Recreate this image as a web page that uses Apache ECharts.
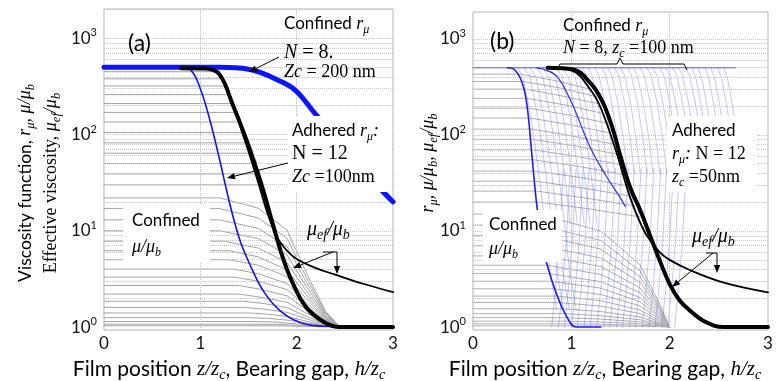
<!DOCTYPE html>
<html><head><meta charset="utf-8">
<script src="https://cdn.jsdelivr.net/npm/echarts@6/dist/echarts.min.js"></script>
<style>html,body{margin:0;padding:0;background:#fff}#c{width:776px;height:381px}</style>
</head><body><div id="c"></div>
<script>
// ---------- data (z/zc , value) ----------
const xTicks = [0, 1, 2, 3];
const yTickExps = [0, 1, 2, 3];
const gridMinor = [2,3,4,5,6,7,8,9,20,30,40,50,60,70,80,90,200,300,400,500,600,700,800,900,2000];
const gridMajor = [10, 100, 1000];
const gridVert = [1, 2];

// panel (a)
const aConfinedR = [[0,500],[1.2,500],[1.5,478],[1.86,347],[2.0,280],[2.2,161],[2.5,75],[2.86,28],[3.0,20]];
const aAdheredR = [[0,500],[0.8,500],[0.9,470],[1.0,300],[1.1,140],[1.2,55],[1.27,27],[1.34,14],[1.42,7.5],[1.5,4.8],[1.65,2.4],[1.82,1.5],[2.03,1.12],[2.3,1.02],[3,1]];
const aMuEfThick = [[0.8,490],[1.05,485],[1.2,420],[1.34,200],[1.45,105],[1.55,55],[1.65,27],[1.75,12],[1.85,5.5],[1.95,3.0],[2.1,1.6],[2.3,1.1],[2.45,1.0],[3.0,1.0]];
const aMuEfThin = [[0.95,490],[1.15,465],[1.3,250],[1.45,95],[1.6,32],[1.7,15],[1.8,8.5],[1.9,6.2],[2.0,5.1],[2.2,4.1],[2.4,3.5],[2.7,2.8],[3.0,2.3]];
const aGrayUpper = [
 [[0,450],[1.17,450],[1.23,380]],
 [[0,380],[1.21,380],[1.27,310]],
 [[0,320],[1.24,320],[1.30,260]],
 [[0,260],[1.28,260],[1.34,210]],
 [[0,210],[1.32,210],[1.38,170]],
 [[0,170],[1.36,170],[1.42,135]],
 [[0,135],[1.40,135],[1.46,108]],
 [[0,105],[1.45,105],[1.51,84]],
 [[0,82],[1.49,82],[1.55,66]],
 [[0,64],[1.53,64],[1.59,51]],
 [[0,50],[1.56,50],[1.62,40]],
 [[0,39],[1.59,39],[1.65,31]],
 [[0,30],[1.62,30],[1.68,24]]
];
const aGrayLower = [
 [[0,22],[1.2,22],[1.6,17.2],[1.9,10.2],[2.1,3.66],[2.3,1.45],[2.45,1]],
 [[0,17],[1.2,17],[1.6,13.6],[1.9,8.37],[2.1,3.29],[2.3,1.41],[2.45,1]],
 [[0,13],[1.2,13],[1.6,10.6],[1.9,6.85],[2.1,2.94],[2.3,1.36],[2.45,1]],
 [[0,10],[1.2,10],[1.6,8.32],[1.9,5.62],[2.1,2.63],[2.3,1.32],[2.45,1]],
 [[0,7.8],[1.25,7.8],[1.6,6.62],[1.9,4.67],[2.1,2.37],[2.3,1.28],[2.45,1]],
 [[0,6.2],[1.3,6.2],[1.6,5.36],[1.9,3.93],[2.1,2.15],[2.3,1.24],[2.45,1]],
 [[0,5.0],[1.3,5.0],[1.6,4.4],[1.9,3.34],[2.1,1.97],[2.3,1.21],[2.45,1]],
 [[0,4.0],[1.35,4.0],[1.6,3.58],[1.9,2.83],[2.1,1.79],[2.3,1.18],[2.45,1]],
 [[0,3.3],[1.35,3.3],[1.6,3.0],[1.9,2.45],[2.1,1.65],[2.3,1.15],[2.45,1]],
 [[0,2.7],[1.4,2.7],[1.6,2.49],[1.9,2.11],[2.1,1.52],[2.3,1.13],[2.45,1]],
 [[0,2.2],[1.4,2.2],[1.6,2.06],[1.9,1.81],[2.1,1.39],[2.3,1.10],[2.45,1]],
 [[0,1.85],[1.45,1.85],[1.65,1.76],[1.9,1.59],[2.1,1.29],[2.3,1.08],[2.45,1]],
 [[0,1.6],[1.45,1.6],[1.65,1.54],[1.9,1.42],[2.1,1.22],[2.3,1.06],[2.45,1]],
 [[0,1.4],[1.5,1.4],[1.7,1.36],[1.9,1.29],[2.1,1.15],[2.3,1.04],[2.45,1]],
 [[0,1.25],[1.5,1.25],[1.7,1.23],[1.9,1.18],[2.1,1.1],[2.3,1.03],[2.45,1]],
 [[0,1.14],[1.55,1.14],[1.75,1.13],[1.9,1.10],[2.1,1.06],[2.3,1.02],[2.45,1]],
 [[0,1.07],[1.6,1.07],[1.8,1.065],[1.95,1.05],[2.1,1.03],[2.3,1.01],[2.45,1]],
 [[0,1.03],[1.7,1.03],[1.9,1.025],[2.1,1.015],[2.3,1.005],[2.45,1]]
];

// panel (b)
const bPlateau = [[0,500],[2.67,500]];
const bSteep = [[0.35,500],[0.42,480],[0.5,350],[0.55,200],[0.6,60],[0.65,18],[0.7,8],[0.755,4.4],[0.85,2.2],[0.95,1.3],[1.05,1.0],[1.3,1.0]];
const bSecond = [[0.65,500],[0.75,470],[0.86,400],[1.0,220],[1.19,75],[1.35,38],[1.5,22],[1.55,18]];
const bMuEfThick = [[0.76,500],[1.02,480],[1.19,350],[1.3,240],[1.4,135],[1.5,60],[1.6,28],[1.7,16.5],[1.8,9],[1.9,4.9],[2.0,2.8],[2.1,1.9],[2.2,1.5],[2.35,1.15],[2.55,1.0],[3,1]];
const bMuEfThin = [[0.8,495],[1.0,470],[1.19,300],[1.3,190],[1.45,70],[1.6,22],[1.72,11],[1.8,8],[1.9,6],[2.0,5],[2.21,3.9],[2.55,2.9],[3.0,2.3]];
const bGrayUpper = [
 [[0,430],[0.48,430],[0.85,365],[1.19,300]],
 [[0,360],[0.52,360],[0.9,306],[1.24,252]],
 [[0,300],[0.54,300],[0.9,255],[1.29,210]],
 [[0,240],[0.555,240],[0.95,204],[1.32,168]],
 [[0,190],[0.57,190],[0.96,162],[1.36,133]],
 [[0,150],[0.58,150],[0.98,128],[1.39,105]],
 [[0,115],[0.595,115],[1.0,98],[1.43,80]],
 [[0,90],[0.605,90],[1.03,77],[1.47,63]],
 [[0,70],[0.61,70],[1.05,60],[1.5,49]],
 [[0,55],[0.62,55],[1.08,47],[1.54,38.5]],
 [[0,42],[0.63,42],[1.1,36],[1.58,29.4]],
 [[0,33],[0.64,33],[1.12,28],[1.61,23]],
 [[0,26],[0.65,26],[1.15,22],[1.65,18.2]],
 [[0,20],[0.665,20],[1.18,17],[1.7,14]]
];
const bGrayLower = [
 [[0,15],[0.66,15],[1.3,10.0],[1.7,4.43],[1.9,1.72],[2.0,1]],
 [[0,11.5],[0.67,11.5],[1.3,7.97],[1.7,3.83],[1.9,1.63],[2.0,1]],
 [[0,9],[0.69,9],[1.3,6.47],[1.7,3.35],[1.9,1.55],[2.0,1]],
 [[0,7],[0.71,7],[1.3,5.23],[1.7,2.92],[1.9,1.48],[2.0,1]],
 [[0,5.5],[0.73,5.5],[1.3,4.26],[1.7,2.55],[1.9,1.41],[2.0,1]],
 [[0,4.4],[0.755,4.4],[1.3,3.52],[1.7,2.26],[1.9,1.35],[2.0,1]],
 [[0,3.6],[0.77,3.6],[1.3,2.97],[1.7,2.02],[1.9,1.29],[2.0,1]],
 [[0,3.0],[0.79,3.0],[1.3,2.54],[1.7,1.83],[1.9,1.25],[2.0,1]],
 [[0,2.5],[0.82,2.5],[1.3,2.18],[1.7,1.66],[1.9,1.20],[2.0,1]],
 [[0,2.1],[0.85,2.1],[1.3,1.88],[1.7,1.50],[1.9,1.16],[2.0,1]],
 [[0,1.8],[0.87,1.8],[1.3,1.65],[1.7,1.38],[1.9,1.12],[2.0,1]],
 [[0,1.55],[0.9,1.55],[1.3,1.45],[1.7,1.27],[1.9,1.09],[2.0,1]],
 [[0,1.38],[0.92,1.38],[1.3,1.31],[1.7,1.19],[1.9,1.07],[2.0,1]],
 [[0,1.25],[0.95,1.25],[1.3,1.21],[1.7,1.13],[1.9,1.05],[2.0,1]],
 [[0,1.15],[0.97,1.15],[1.3,1.13],[1.7,1.08],[1.9,1.03],[2.0,1]],
 [[0,1.08],[1.0,1.08],[1.3,1.07],[1.7,1.04],[1.9,1.02],[2.0,1]],
 [[0,1.03],[1.02,1.03],[1.3,1.025],[1.7,1.02],[1.9,1.01],[2.0,1]]
];
const bHatchTop = [
 [[0.45,500],[0.51,400],[0.59,150],[0.67,40],[0.73,12],[0.78,4],[0.85,1.5]],
 [[0.52,500],[0.58,400],[0.66,150],[0.74,40],[0.80,12],[0.85,4],[0.92,1.5]],
 [[0.58,500],[0.64,400],[0.72,150],[0.80,40],[0.86,12],[0.91,4],[0.98,1.5]],
 [[0.65,500],[0.71,400],[0.79,150],[0.87,40],[0.93,12],[0.98,4],[1.05,1.5]],
 [[0.71,500],[0.77,400],[0.85,150],[0.93,40],[0.99,12]],
 [[0.78,500],[0.84,400],[0.92,150],[1.00,40],[1.06,12]],
 [[0.85,500],[0.91,400],[0.99,150],[1.07,40],[1.13,12]],
 [[0.91,500],[0.97,400],[1.05,150],[1.13,40],[1.19,12]],
 [[0.98,500],[1.04,400],[1.12,150],[1.20,40],[1.26,12]],
 [[1.04,500],[1.08,420],[1.14,220],[1.20,90],[1.24,40]],
 [[1.11,500],[1.15,420],[1.21,220],[1.27,90],[1.31,40]],
 [[1.17,500],[1.21,420],[1.27,220],[1.33,90],[1.37,40]],
 [[1.24,500],[1.28,420],[1.34,220],[1.40,90],[1.44,40]],
 [[1.31,500],[1.35,420],[1.41,220],[1.47,90],[1.51,40]],
 [[1.37,500],[1.41,420],[1.47,220],[1.53,90],[1.57,40]],
 [[1.44,500],[1.48,420],[1.54,220],[1.60,90],[1.64,40]],
 [[1.50,500],[1.54,420],[1.60,220],[1.66,90],[1.70,40]],
 [[1.57,500],[1.61,420],[1.67,220],[1.73,90],[1.77,40]],
 [[1.63,500],[1.67,420],[1.73,220],[1.79,90],[1.83,40]],
 [[1.70,500],[1.74,420],[1.80,220],[1.86,90],[1.90,40]],
 [[1.77,500],[1.81,420],[1.87,220],[1.93,90],[1.97,40]],
 [[1.83,500],[1.87,420],[1.93,220],[1.99,90],[2.03,40]],
 [[1.90,500],[1.94,420],[2.00,220],[2.06,90],[2.10,40]],
 [[1.96,500],[2.00,420],[2.06,220],[2.12,90],[2.16,40]],
 [[2.03,500],[2.07,420],[2.13,220],[2.19,90],[2.23,40]],
 [[2.09,500],[2.13,420],[2.19,220],[2.25,90],[2.29,40]],
 [[2.16,500],[2.20,420],[2.26,220],[2.32,90]],
 [[2.23,500],[2.27,380],[2.31,230],[2.34,150]],
 [[2.29,500],[2.33,380],[2.37,230],[2.40,150]],
 [[2.36,500],[2.40,380],[2.44,230],[2.47,150]],
 [[2.42,500],[2.46,380],[2.50,230],[2.53,150]],
 [[2.49,500],[2.53,380],[2.57,230],[2.60,150]],
 [[2.55,500],[2.59,380],[2.63,230],[2.66,150]]
];
const bHatchBottom = [
 [[0.80,1],[0.84,2.5],[0.88,8],[0.90,20],[0.92,45]],
 [[0.87,1],[0.91,2.5],[0.95,8],[0.97,20],[0.99,45]],
 [[0.93,1],[0.97,2.5],[1.01,8],[1.03,20],[1.05,45]],
 [[1.00,1],[1.04,2.5],[1.08,8],[1.10,20],[1.12,45]],
 [[1.06,1],[1.10,2.5],[1.14,8],[1.16,20],[1.18,45]],
 [[1.13,1],[1.17,2.5],[1.21,8],[1.23,20],[1.25,45]],
 [[1.19,1],[1.23,2.5],[1.27,8],[1.29,20],[1.31,45]],
 [[1.26,1],[1.30,2.5],[1.34,8],[1.36,20],[1.38,45]],
 [[1.33,1],[1.37,2.5],[1.41,8],[1.43,20],[1.45,45]],
 [[1.39,1],[1.43,2.5],[1.47,8],[1.49,20],[1.51,45]],
 [[1.46,1],[1.50,2.5],[1.54,8],[1.56,20],[1.58,45]],
 [[1.52,1],[1.56,2.5],[1.60,8],[1.62,20],[1.64,45]],
 [[1.59,1],[1.63,2.5],[1.67,8],[1.69,20],[1.71,45]],
 [[1.65,1],[1.69,2.5],[1.73,8],[1.75,20],[1.77,45]],
 [[1.72,1],[1.76,2.5],[1.80,8],[1.82,20],[1.84,45]],
 [[1.79,1],[1.83,2.5],[1.87,8],[1.89,20],[1.91,45]],
 [[1.85,1],[1.89,2.5],[1.93,8],[1.95,20],[1.97,45]],
 [[1.92,1],[1.96,2.5],[2.00,8],[2.02,20],[2.04,45]],
 [[1.98,1],[2.02,2.5],[2.06,8],[2.08,20],[2.10,45]],
 [[2.05,1],[2.09,2.5],[2.13,8],[2.15,20],[2.17,45]]
];

// ---------- chart ----------
const L10 = v => Math.log10(v);
const SANS = 'Lato';
const SERIF = '"Liberation Serif", "DejaVu Serif", serif';

function mk(g, pts, color, width, z, extra) {
  return Object.assign({
    type: 'line', xAxisIndex: g, yAxisIndex: g,
    data: pts.map(p => [p[0], L10(p[1])]),
    symbol: 'none', showSymbol: false, silent: true, animation: false, z: z,
    lineStyle: { color: color, width: width, cap: 'round', join: 'round' }
  }, extra || {});
}
function gridSeries(g) {
  const d = [];
  gridMinor.concat(gridMajor).forEach(v => d.push({ yAxis: L10(v) }));
  gridVert.forEach(v => d.push({ xAxis: v }));
  return {
    type: 'line', xAxisIndex: g, yAxisIndex: g, data: [[0, -5]], symbol: 'none', silent: true, z: 1,
    animation: false,
    markLine: { silent: true, symbol: ['none', 'none'], animation: false, label: { show: false },
      lineStyle: { type: 'dotted', color: '#c4c4c4', width: 1 }, data: d }
  };
}

const series = [];
series.push(gridSeries(0), gridSeries(1));
const G_A = '#a3a3a3', G_B = '#b0b0b0';
aGrayUpper.concat(aGrayLower).forEach(l => series.push(mk(0, l, G_A, 1, 3)));
bGrayUpper.concat(bGrayLower).forEach(l => series.push(mk(1, l, G_B, 1, 3)));
const HATCH = 'rgba(80,80,255,0.42)';
bHatchTop.concat(bHatchBottom).forEach(l => series.push(mk(1, l, HATCH, 0.8, 4)));
const sm = { smooth: 0.4 };
series.push(mk(1, bPlateau, '#5a5aff', 1, 5));
series.push(mk(1, bSteep, '#1c1cf0', 1.6, 6, sm));
series.push(mk(1, bSecond, '#2c2cf0', 1.2, 6, sm));
series.push(mk(1, bMuEfThin, '#000', 1.8, 8, sm));
series.push(mk(1, bMuEfThick, '#000', 4, 9, sm));
series.push(mk(0, aAdheredR, '#1414ee', 1.6, 6, sm));
series.push(mk(0, aMuEfThin, '#000', 1.8, 8, sm));
series.push(mk(0, aMuEfThick, '#000', 4, 9, sm));
series.push(mk(0, aConfinedR, '#0a14ff', 5, 7, sm));

const yLabel = {
  customValues: yTickExps, margin: 7,
  formatter: v => '{b|10}{s|' + Math.round(v) + '}',
  rich: {
    b: { fontFamily: SANS, fontSize: 17, color: '#111', lineHeight: 22 },
    s: { fontFamily: SANS, fontSize: 11, color: '#111', lineHeight: 11, verticalAlign: 'top' }
  }
};
function xAx(g) {
  return { type: 'value', gridIndex: g, min: 0, max: 3, interval: 1,
    axisLine: { show: false }, axisTick: { show: false }, splitLine: { show: false },
    axisLabel: { fontFamily: SANS, fontSize: 17, color: '#111', margin: 5, customValues: xTicks } };
}
function yAx(g, max) {
  return { type: 'value', gridIndex: g, min: -0.031, max: max,
    axisLine: { show: false }, axisTick: { show: false }, splitLine: { show: false },
    axisLabel: yLabel };
}

// ---------- annotations ----------
const RICH = {
  sa: { fontFamily: SANS, fontSize: 17, lineHeight: 24 },
  xS: { fontFamily: SANS, fontSize: 21, lineHeight: 26 },
  xI: { fontFamily: SERIF, fontStyle: 'italic', fontSize: 21, lineHeight: 26 },
  xB: { fontFamily: SERIF, fontStyle: 'italic', fontSize: 14, lineHeight: 13, verticalAlign: 'bottom' },
  yS: { fontFamily: SANS, fontSize: 17.5, lineHeight: 24 },
  yI: { fontFamily: SERIF, fontStyle: 'italic', fontSize: 18, lineHeight: 24 },
  yR: { fontFamily: SERIF, fontSize: 18, lineHeight: 24 },
  yB: { fontFamily: SERIF, fontStyle: 'italic', fontSize: 12.5, lineHeight: 12, verticalAlign: 'bottom' },
  big: { fontFamily: SANS, fontSize: 23, lineHeight: 28 },
  it: { fontFamily: SERIF, fontStyle: 'italic', fontSize: 18, lineHeight: 24 },
  rm: { fontFamily: SERIF, fontSize: 18, lineHeight: 24 },
  iT: { fontFamily: SERIF, fontStyle: 'italic', fontSize: 20, lineHeight: 24 },
  rM: { fontFamily: SERIF, fontSize: 20, lineHeight: 24 },
  sb: { fontFamily: SERIF, fontStyle: 'italic', fontSize: 12, lineHeight: 12, verticalAlign: 'bottom' },
  sB: { fontFamily: SERIF, fontStyle: 'italic', fontSize: 14, lineHeight: 13, verticalAlign: 'bottom' }
};
function T(x, y, text, extra) {
  return Object.assign({ type: 'text', x: x, y: y, z: 60, silent: true,
    style: { text: text, rich: RICH, fill: '#000', align: 'left', verticalAlign: 'middle',
      textAlign: 'left', textVerticalAlign: 'middle' } }, extra || {});
}
function TC(x, y, text, rot) {
  return { type: 'text', x: x, y: y, z: 60, silent: true, rotation: rot || 0,
    style: { text: text, rich: RICH, fill: '#000', align: 'center', verticalAlign: 'middle',
      textAlign: 'center', textVerticalAlign: 'middle' } };
}
function R(x, y, w, h) {
  return { type: 'rect', z: 55, silent: true, shape: { x: x, y: y, width: w, height: h }, style: { fill: '#fff' } };
}
function LN(x1, y1, x2, y2) {
  return { type: 'line', z: 62, silent: true, shape: { x1, y1, x2, y2 }, style: { stroke: '#000', lineWidth: 1 } };
}
function AR(x1, y1, x2, y2) {
  const a = Math.atan2(y2 - y1, x2 - x1), h = 8, w = 3.2;
  const bx = x2 - h * Math.cos(a), by = y2 - h * Math.sin(a);
  const px = -Math.sin(a) * w, py = Math.cos(a) * w;
  return [LN(x1, y1, bx, by), { type: 'polygon', z: 62, silent: true,
    shape: { points: [[x2, y2], [bx + px, by + py], [bx - px, by - py]] }, style: { fill: '#000' } }];
}

const els = [];
// panel a
els.push(R(288, 116, 104, 76), R(123, 205, 87, 57), R(483, 210, 79, 52), R(667, 116, 90, 76));
els.push(T(128, 44, '{big|(a)}'));
els.push(T(284, 24, '{sa|Confined }{it|r}{sb|μ}'));
els.push(T(284, 53, '{iT|N}{rM| = 8.}'));
els.push(T(284, 72, '{it|Zc}{rm| = 200 nm}'));
els.push(...AR(279, 57, 249, 72));
els.push(T(292, 131, '{sa|Adhered }{it|r}{sb|μ}{it|:}'));
els.push(T(292, 154, '{rM|N = 12}'));
els.push(T(292, 177, '{it|Zc}{rm| =100nm}'));
els.push(...AR(288, 163, 227, 178));
els.push(T(132, 221, '{sa|Confined}'));
els.push(T(132, 247, '{it|μ/μ}{sb|b}'));
els.push(T(307, 230, '{iT|μ}{sB|ef}{iT|/μ}{sB|b}'));
els.push(LN(323, 252, 337, 252));
els.push(...AR(333, 252, 293, 268));
els.push(...AR(337, 252, 337, 274));
// panel b
els.push(T(490, 42, '{big|(b)}'));
els.push(T(563, 26, '{sa|Confined }{it|r}{sb|μ}'));
els.push(T(563, 48, '{it|N}{rm| = 8, }{it|z}{sb|c}{rm| =100 nm}'));
els.push({ type: 'polyline', z: 62, silent: true,
  shape: { points: [[557, 70], [560, 64], [617, 64], [620, 58], [623, 64], [684, 64], [687, 70]] },
  style: { stroke: '#000', lineWidth: 1, fill: null } });
els.push(T(672, 131, '{sa|Adhered}'));
els.push(T(672, 154, '{it|r}{sb|μ}{it|:}{rm| N = 12}'));
els.push(T(672, 177, '{it|z}{sb|c}{rm| =50nm}'));
els.push(T(489, 225, '{sa|Confined}'));
els.push(T(489, 249, '{it|μ/μ}{sb|b}'));
els.push(T(692, 237, '{iT|μ}{sB|ef}{iT|/μ}{sB|b}'));
els.push(LN(706, 253, 717, 253));
els.push(...AR(713, 253, 672, 287));
els.push(...AR(717, 253, 717, 273));
// axis titles
els.push(TC(25, 183, '{yS|Viscosity function, }{yI|r}{yB|μ}{yI|, μ/μ}{yB|b}', Math.PI / 2));
els.push(TC(51, 183, '{yR|Effective viscosity, }{yI|μ}{yB|ef}{yI|/μ}{yB|b}', Math.PI / 2));
els.push(TC(428, 163, '{yI|r}{yB|μ}{yI|, μ/μ}{yB|b}{yI|, μ}{yB|ef}{yI|/μ}{yB|b}', Math.PI / 2));
els.push(TC(229, 369, '{xS|Film position }{xI|z/z}{xB|c}{xS|, Bearing gap, }{xI|h/z}{xB|c}'));
els.push(TC(605, 369, '{xS|Film position }{xI|z/z}{xB|c}{xS|, Bearing gap, }{xI|h/z}{xB|c}'));

const chart = echarts.init(document.getElementById('c'));
chart.setOption({
  animation: false,
  backgroundColor: '#fff',
  grid: [
    { left: 104, top: 9, width: 289, height: 321, show: true, borderColor: '#b5b5b5', borderWidth: 1, backgroundColor: 'transparent' },
    { left: 473, top: 12, width: 295, height: 318, show: true, borderColor: '#b5b5b5', borderWidth: 1, backgroundColor: 'transparent' }
  ],
  xAxis: [xAx(0), xAx(1)],
  yAxis: [yAx(0, 3.305), yAx(1, 3.28)],
  series: series,
  graphic: { elements: els }
});
</script>
</body></html>
